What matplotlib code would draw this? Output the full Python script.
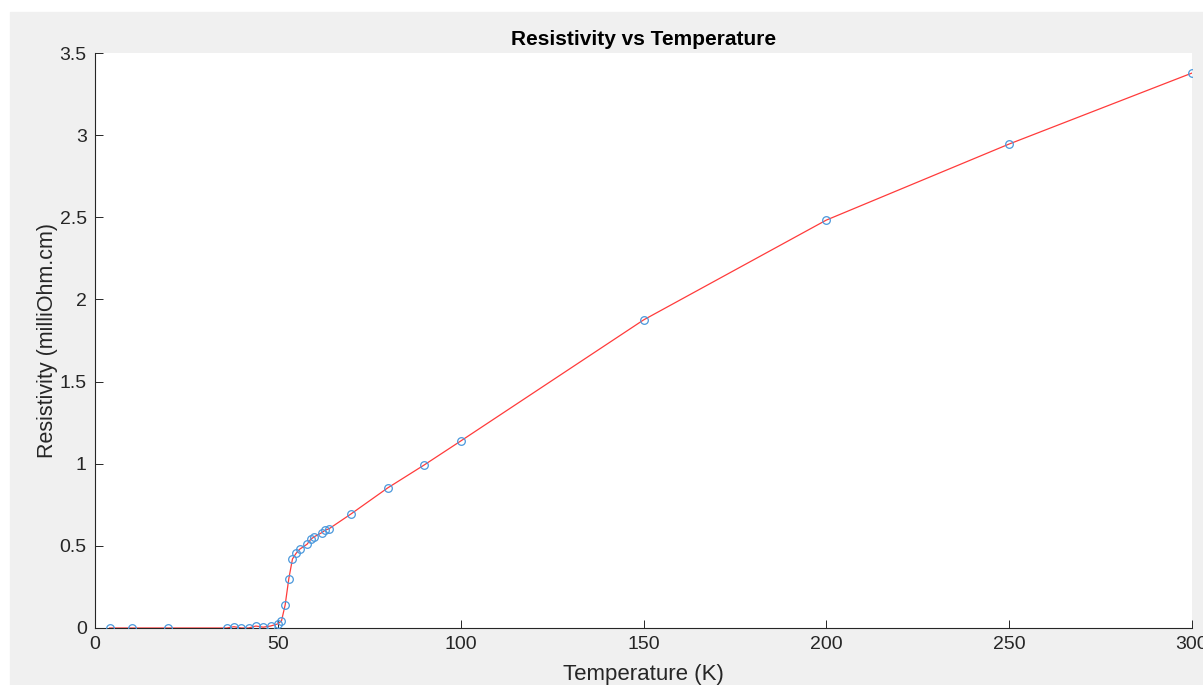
import matplotlib

matplotlib.use("Agg")
import matplotlib.pyplot as plt
from matplotlib.patches import Rectangle

# --- data ---
temperature = [4, 10, 20, 36, 38, 40, 42, 44, 46, 48, 50, 51, 52, 53, 54, 55, 56,
               58, 59, 60, 62, 63, 64, 70, 80, 90, 100, 150, 200, 250, 300]
resistivity = [0.0, 0.0, 0.0, 0.0, 0.008, 0.0, 0.0, 0.012, 0.005, 0.012, 0.025, 0.043,
               0.14, 0.30, 0.42, 0.455, 0.48, 0.51, 0.54, 0.556, 0.58, 0.596, 0.604,
               0.694, 0.852, 0.992, 1.138, 1.875, 2.483, 2.946, 3.378]
x_ticks = [0, 50, 100, 150, 200, 250, 300]
y_ticks = [0, 0.5, 1, 1.5, 2, 2.5, 3, 3.5]

plt.rcParams["font.family"] = ["Liberation Sans", "DejaVu Sans"]

W, H = 1203, 685
fig = plt.figure(figsize=(W / 100, H / 100), dpi=100)
fig.patch.set_facecolor("white")
# grey figure panel (screenshot has a thin white border at top/left)
fig.patches.append(Rectangle((10 / W, 0), 1 - 10 / W, 1 - 12 / H,
                             transform=fig.transFigure, color="#f0f0f0", zorder=-1))

ax = fig.add_axes([95 / W, (H - 628) / H, 1097 / W, 575 / H])
ax.set_facecolor("white")

ax.plot(temperature, resistivity, color="#ff3b3b", linewidth=0.9, zorder=2)
ax.plot(temperature, resistivity, linestyle="none", marker="o", markersize=5.5,
        markerfacecolor="none", markeredgecolor="#4a98dc", markeredgewidth=0.9, zorder=3)

ax.set_xlim(0, 300)
ax.set_ylim(0, 3.5)
ax.set_xticks(x_ticks)
ax.set_yticks(y_ticks)
ax.set_yticklabels(["0", "0.5", "1", "1.5", "2", "2.5", "3", "3.5"])

for spine in ("top", "right"):
    ax.spines[spine].set_visible(False)
for spine in ("bottom", "left"):
    ax.spines[spine].set_color("#262626")
    ax.spines[spine].set_linewidth(0.8)
ax.tick_params(direction="in", length=6, width=0.7, colors="#262626",
               labelsize=14, pad=6)

ax.set_xlabel("Temperature (K)", fontsize=16, color="#262626", labelpad=8)
ax.set_ylabel("Resistivity (milliOhm.cm)", fontsize=15.5, color="#262626", labelpad=1)
ax.set_title("Resistivity vs Temperature", fontsize=15, fontweight="bold",
             color="black", pad=6)

fig.savefig("out.png", dpi=100, facecolor=fig.get_facecolor())
